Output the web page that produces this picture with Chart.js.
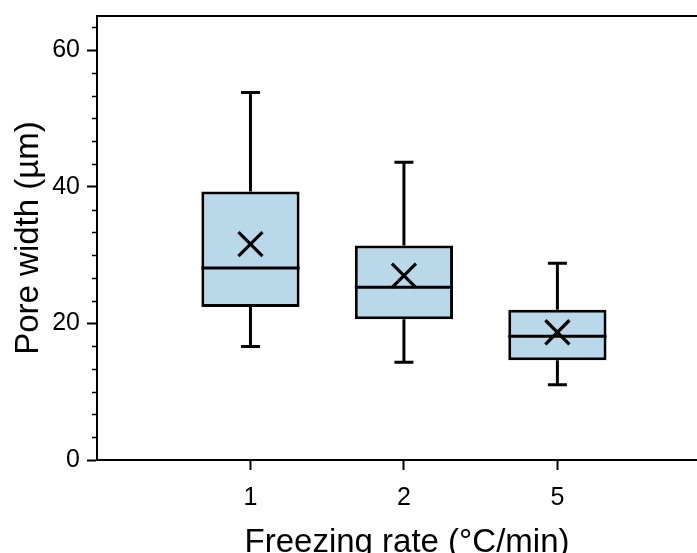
<!DOCTYPE html>
<html lang="en">
<head>
    <meta charset="UTF-8">
    <script src="https://cdn.jsdelivr.net/npm/chart.js"></script>
    <title>Pore width vs freezing rate</title>
    <style>
        html, body { margin: 0; padding: 0; background: #fff; overflow: hidden; }
        #wrap { width: 717px; height: 563px; }
    </style>
</head>
<body>
    <div id="wrap">
        <canvas id="chartBox" width="717" height="563"></canvas>
    </div>

    <script>
        // categories (freezing rate, °C/min) placed at x = 1, 2, 3
        var rateLabels = ['1', '2', '5'];
        var positions = [1, 2, 3];

        // box plot statistics, pore width in µm
        var whiskerLow = [16.6, 14.3, 11.0];
        var q1 = [22.4, 20.6, 14.6];
        var median = [28.1, 25.3, 18.1];
        var q3 = [39.3, 31.4, 22.0];
        var whiskerHigh = [53.8, 43.6, 28.8];
        var mean = [31.6, 27.0, 18.7];

        var yTicks = [0, 20, 40, 60];

        var boxData = positions.map(function (x, i) {
            return { x: x, y: [q1[i], q3[i]] };
        });
        var meanData = positions.map(function (x, i) {
            return { x: x, y: mean[i] };
        });

        // whiskers, caps, medians, minor ticks and frame top
        var boxExtras = {
            id: 'boxExtras',
            afterDatasetsDraw: function (chart) {
                var ctx = chart.ctx;
                var xs = chart.scales.x;
                var ys = chart.scales.y;
                var meta = chart.getDatasetMeta(1);
                ctx.save();
                ctx.strokeStyle = '#000';
                ctx.lineWidth = 3;
                ctx.lineCap = 'butt';
                positions.forEach(function (x, i) {
                    var px = xs.getPixelForValue(x);
                    var half = meta.data[i].width / 2;
                    var cap = 9.5;
                    ctx.beginPath();
                    ctx.moveTo(px, ys.getPixelForValue(q3[i]));
                    ctx.lineTo(px, ys.getPixelForValue(whiskerHigh[i]));
                    ctx.moveTo(px - cap, ys.getPixelForValue(whiskerHigh[i]));
                    ctx.lineTo(px + cap, ys.getPixelForValue(whiskerHigh[i]));
                    ctx.moveTo(px, ys.getPixelForValue(q1[i]));
                    ctx.lineTo(px, ys.getPixelForValue(whiskerLow[i]));
                    ctx.moveTo(px - cap, ys.getPixelForValue(whiskerLow[i]));
                    ctx.lineTo(px + cap, ys.getPixelForValue(whiskerLow[i]));
                    ctx.moveTo(px - half, ys.getPixelForValue(median[i]));
                    ctx.lineTo(px + half, ys.getPixelForValue(median[i]));
                    ctx.stroke();
                });

                // minor ticks on y, 5 per major step
                var area = chart.chartArea;
                ctx.lineWidth = 1.5;
                for (var k = 1; k * 20 / 6 <= ys.max; k++) {
                    if (k % 6 === 0) continue;
                    var py = Math.round(ys.getPixelForValue(k * 20 / 6)) + 0.5;
                    ctx.beginPath();
                    ctx.moveTo(area.left - 5, py);
                    ctx.lineTo(area.left, py);
                    ctx.stroke();
                }

                // top frame line
                ctx.lineWidth = 2;
                ctx.beginPath();
                ctx.moveTo(area.left - 1, area.top);
                ctx.lineTo(area.right, area.top);
                ctx.stroke();
                ctx.restore();
            }
        };

        var ctxBox = document.getElementById('chartBox').getContext('2d');
        var chartBox = new Chart(ctxBox, {
            type: 'bar',
            data: {
                datasets: [{
                    type: 'scatter',
                    label: 'Mean',
                    order: 0,
                    data: meanData,
                    pointStyle: 'crossRot',
                    pointRadius: 17,
                    pointBorderWidth: 3.2,
                    pointBorderColor: '#000',
                    pointBackgroundColor: '#000'
                }, {
                    label: 'IQR',
                    order: 1,
                    data: boxData,
                    backgroundColor: '#b9d9ea',
                    borderColor: '#000',
                    borderWidth: 3,
                    borderSkipped: false,
                    barPercentage: 0.64,
                    categoryPercentage: 1
                }]
            },
            options: {
                responsive: false,
                animation: false,
                layout: { autoPadding: false, padding: { top: 16, right: 0, left: 0, bottom: 0 } },
                plugins: {
                    legend: { display: false },
                    tooltip: { enabled: false }
                },
                scales: {
                    x: {
                        type: 'linear',
                        offset: false,
                        min: 0,
                        max: 4.04,
                        afterBuildTicks: function (scale) {
                            scale.ticks = positions.map(function (v) { return { value: v }; });
                        },
                        afterFit: function (scale) {
                            scale.height = 103;
                            scale.paddingLeft = 0;
                            scale.paddingRight = 0;
                        },
                        ticks: {
                            autoSkip: false,
                            maxRotation: 0,
                            padding: 13,
                            color: '#000',
                            font: { family: 'Liberation Sans, Arial, sans-serif', size: 25 },
                            callback: function (value) {
                                var idx = positions.indexOf(value);
                                return idx >= 0 ? rateLabels[idx] : '';
                            }
                        },
                        grid: {
                            offset: false,
                            drawOnChartArea: false,
                            tickLength: 10,
                            tickWidth: 2,
                            tickColor: '#000'
                        },
                        border: { display: true, color: '#000', width: 2 },
                        title: {
                            display: true,
                            text: 'Freezing rate (°C/min)',
                            color: '#000',
                            padding: { top: 0, bottom: 0 },
                            font: { family: 'Liberation Sans, Arial, sans-serif', size: 33 }
                        }
                    },
                    y: {
                        min: 0,
                        max: 65,
                        afterBuildTicks: function (scale) {
                            scale.ticks = yTicks.map(function (v) { return { value: v }; });
                        },
                        afterFit: function (scale) {
                            scale.width = 97;
                            scale.paddingTop = 0;
                            scale.paddingBottom = 0;
                        },
                        ticks: {
                            padding: 7,
                            color: '#000',
                            font: { family: 'Liberation Sans, Arial, sans-serif', size: 25 }
                        },
                        grid: {
                            drawOnChartArea: false,
                            tickLength: 10,
                            tickWidth: 2,
                            tickColor: '#000'
                        },
                        border: { display: true, color: '#000', width: 2 },
                        title: {
                            display: true,
                            text: 'Pore width (µm)',
                            color: '#000',
                            padding: { top: 9, bottom: 0 },
                            font: { family: 'Liberation Sans, Arial, sans-serif', size: 33 }
                        }
                    }
                }
            },
            plugins: [boxExtras]
        });
    </script>
</body>
</html>
